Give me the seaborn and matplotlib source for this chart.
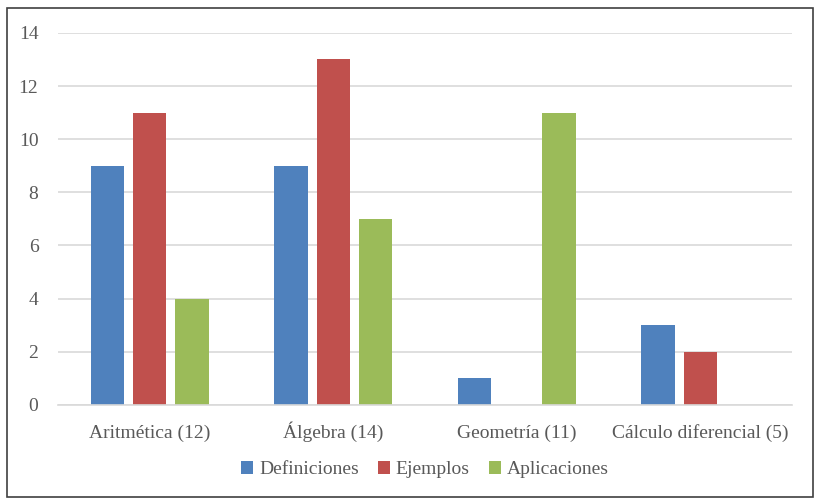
import numpy as np
import pandas as pd
import matplotlib
matplotlib.use("Agg")
import matplotlib.pyplot as plt
import seaborn as sns
from matplotlib.patches import Rectangle

# -----------------------------
# Data
# -----------------------------
categories = ["Aritmética (12)", "Álgebra (14)", "Geometría (11)", "Cálculo diferencial (5)"]
series = ["Definiciones", "Ejemplos", "Aplicaciones"]
definiciones = [9, 9, 1, 3]
ejemplos = [11, 13, 0, 2]
aplicaciones = [4, 7, 11, 0]
colors = ["#4F81BD", "#C0504D", "#9BBB59"]

df = pd.DataFrame({
    "categoria": categories * 3,
    "serie": np.repeat(series, len(categories)),
    "valor": definiciones + ejemplos + aplicaciones,
})

# -----------------------------
# Plot
# -----------------------------
sns.set_theme(style="white")
plt.rcParams["font.family"] = ["Liberation Serif", "DejaVu Serif"]
text_color = "#595959"

fig, ax = plt.subplots(figsize=(8.15, 4.98), dpi=100)
fig.subplots_adjust(left=0.071, right=0.972, top=0.934, bottom=0.187)

sns.barplot(data=df, x="categoria", y="valor", hue="serie", order=categories,
            hue_order=series, palette=colors, width=0.69, gap=0.21,
            saturation=1, linewidth=0, ax=ax, legend=True)

ax.set_ylim(0, 14)
ax.set_yticks(range(0, 15, 2))
ax.set_xlabel("")
ax.set_ylabel("")
ax.grid(axis="y", color="#D9D9D9", linewidth=1.2)
ax.set_axisbelow(True)
for side in ["top", "right", "left"]:
    ax.spines[side].set_visible(False)
ax.spines["bottom"].set_color("#D9D9D9")
ax.spines["bottom"].set_linewidth(1.2)
ax.tick_params(axis="both", length=0, labelsize=14, colors=text_color)
ax.tick_params(axis="y", pad=14)
ax.tick_params(axis="x", pad=24)
for lbl in ax.get_xticklabels():
    lbl.set_verticalalignment("baseline")

handles, labels = ax.get_legend_handles_labels()
ax.legend(handles, labels, loc="upper center", bbox_to_anchor=(0.5, -0.105),
          ncol=3, frameon=False, fontsize=14, labelcolor=text_color,
          handlelength=0.6, handleheight=0.6, handletextpad=0.3, columnspacing=1.0)

# frame around the whole chart
fig.patches.append(Rectangle((0.008, 0.003), 0.99, 0.98, transform=fig.transFigure,
                             fill=False, edgecolor="#404040", linewidth=1.2))

plt.savefig("out.png", dpi=100)
plt.close()
